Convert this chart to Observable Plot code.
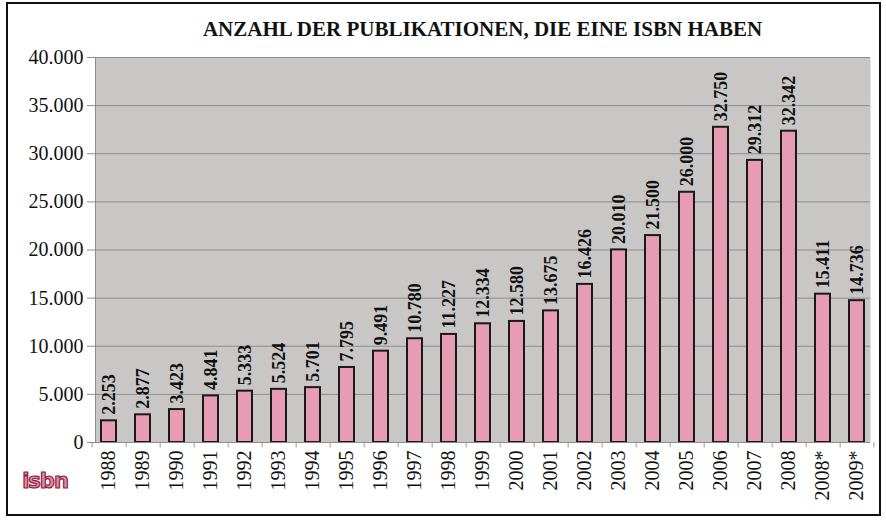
<!DOCTYPE html>
<html>
<head>
<meta charset="utf-8">
<script src="https://cdn.jsdelivr.net/npm/d3@7"></script>
<script src="https://cdn.jsdelivr.net/npm/@observablehq/plot@0.6"></script>
<style>
  html, body { margin: 0; padding: 0; background: #fff; }
  #wrap { position: relative; width: 886px; height: 522px; overflow: hidden; font-family: "Liberation Serif", "Times New Roman", serif; }
  #border { position: absolute; left: 6px; top: 2px; width: 871px; height: 510px; border: 2px solid #111; }
  #title { position: absolute; left: 95px; width: 775px; top: 17px; text-align: center; font-weight: bold; font-size: 21px; color: #111; }
  #chart { position: absolute; left: 0; top: 0; }
  #logo { position: absolute; left: 20px; top: 469px; width: 50px; height: 26px; line-height: 24px; text-align: center;
          font-family: "DejaVu Sans", sans-serif; font-weight: bold; font-size: 21px; color: #e58aa8;
          -webkit-text-stroke: 1.2px #8a1f3c; letter-spacing: -1px; }
</style>
</head>
<body>
<div id="wrap">
  <div id="border"></div>
  <div id="chart"></div>
  <div id="title">ANZAHL DER PUBLIKATIONEN, DIE EINE ISBN HABEN</div>
  <div id="logo">isbn</div>
</div>
<script>
const years = ["1988","1989","1990","1991","1992","1993","1994","1995","1996","1997","1998","1999","2000","2001","2002","2003","2004","2005","2006","2007","2008","2008*","2009*"];
const counts = [2253,2877,3423,4841,5333,5524,5701,7795,9491,10780,11227,12334,12580,13675,16426,20010,21500,26000,32750,29312,32342,15411,14736];
const yTicks = [0,5000,10000,15000,20000,25000,30000,35000,40000];

const data = years.map((y, i) => ({year: y, value: counts[i]}));
const de = d3.formatLocale({decimal: ",", thousands: ".", grouping: [3], currency: ["", " €"]});
const fmt = de.format(",d");

const W = 886, ML = 95, MR = 16;
const halfStep = (W - ML - MR) / years.length / 2;

const plot = Plot.plot({
  width: W,
  height: 522,
  marginLeft: ML,
  marginRight: MR,
  marginTop: 57,
  marginBottom: 80,
  style: {fontFamily: "'Liberation Serif', 'Times New Roman', serif", background: "transparent", overflow: "visible"},
  x: {domain: years, paddingInner: 0.55, paddingOuter: 0, label: null},
  y: {domain: [0, 40000], label: null},
  marks: [
    Plot.frame({fill: "#c9c6c6", stroke: null}),
    Plot.gridY(yTicks, {stroke: "#8c8c8c", strokeOpacity: 1, strokeWidth: 1}),
    Plot.frame({anchor: "left", stroke: "#8c8c8c", strokeWidth: 1}),
    Plot.axisY(yTicks, {tickFormat: fmt, fontSize: 20, tickSize: 8, tickPadding: 4, stroke: "#8c8c8c", fill: "#111", label: null}),
    Plot.barY(data, {x: "year", y: "value", fill: "#e79bb4", stroke: "#1a1a1a", strokeWidth: 2}),
    Plot.ruleY([0], {stroke: "#8c8c8c", strokeWidth: 1}),
    Plot.ruleX(years, {x: d => d, y1: 0, y2: -560, dx: -halfStep, stroke: "#9a9a9a", strokeWidth: 1}),
    Plot.ruleX([years[years.length - 1]], {x: d => d, y1: 0, y2: -560, dx: halfStep, stroke: "#9a9a9a", strokeWidth: 1}),
    Plot.axisX({tickRotate: -90, fontSize: 20, tickSize: 0, tickPadding: 8, fill: "#111", label: null}),
    Plot.text(data, {x: "year", y: "value", text: d => fmt(d.value), rotate: -90, textAnchor: "start", lineAnchor: "middle", dy: -6, fontSize: 18, fontWeight: "bold", fill: "#111"})
  ]
});
document.getElementById("chart").appendChild(plot);
</script>
</body>
</html>
